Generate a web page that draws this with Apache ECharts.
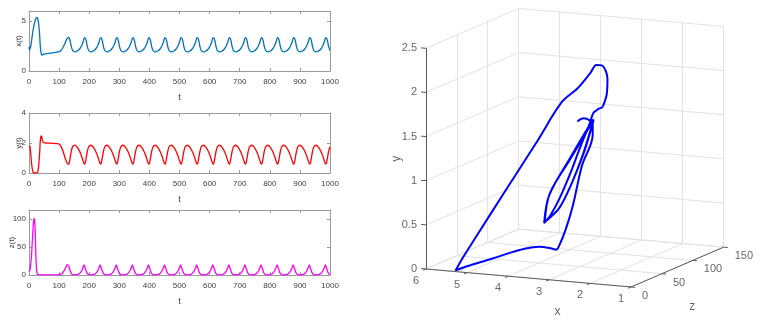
<!DOCTYPE html>
<html>
<head>
<meta charset="utf-8">
<script src="https://cdn.jsdelivr.net/npm/echarts@6/dist/echarts.min.js"></script>
<style>
  html, body { margin: 0; padding: 0; background: #fff; }
  #chart { width: 760px; height: 324px; }
</style>
</head>
<body>
<div id="chart"></div>
<script>
// time samples: start-up transient, then one row per oscillation period
const tVals = [
  0, 1, 2, 3, 4, 6, 8, 10, 12, 14, 16, 18, 20, 22, 24, 26, 28, 30, 32, 34,
  36, 37, 38, 39, 40, 41, 42, 43, 45, 48, 55, 70, 90, 100, 106, 112, 117, 122, 127,
  132, 136, 140, 145, 152, 160, 168, 175, 180, 183,
  185.4, 189.4, 193.4, 198.4, 205.4, 213.4, 221.4, 228.4, 233.4, 236.4,
  238.9, 242.9, 246.9, 251.9, 258.9, 266.9, 274.9, 281.9, 286.9, 289.9,
  292.3, 296.3, 300.3, 305.3, 312.3, 320.3, 328.3, 335.3, 340.3, 343.3,
  345.8, 349.8, 353.8, 358.8, 365.8, 373.8, 381.8, 388.8, 393.8, 396.8,
  399.2, 403.2, 407.2, 412.2, 419.2, 427.2, 435.2, 442.2, 447.2, 450.2,
  452.6, 456.6, 460.6, 465.6, 472.6, 480.6, 488.6, 495.6, 500.6, 503.6,
  506.1, 510.1, 514.1, 519.1, 526.1, 534.1, 542.1, 549.1, 554.1, 557.1,
  559.5, 563.5, 567.5, 572.5, 579.5, 587.5, 595.5, 602.5, 607.5, 610.5,
  613, 617, 621, 626, 633, 641, 649, 656, 661, 664,
  666.4, 670.4, 674.4, 679.4, 686.4, 694.4, 702.4, 709.4, 714.4, 717.4,
  719.8, 723.8, 727.8, 732.8, 739.8, 747.8, 755.8, 762.8, 767.8, 770.8,
  773.3, 777.3, 781.3, 786.3, 793.3, 801.3, 809.3, 816.3, 821.3, 824.3,
  826.7, 830.7, 834.7, 839.7, 846.7, 854.7, 862.7, 869.7, 874.7, 877.7,
  880.2, 884.2, 888.2, 893.2, 900.2, 908.2, 916.2, 923.2, 928.2, 931.2,
  933.6, 937.6, 941.6, 946.6, 953.6, 961.6, 969.6, 976.6, 981.6, 984.6,
  987, 991, 995, 1000
];

const xVals = [
  2.4, 2.25, 2.12, 2.07, 2.1, 2.5, 2.9, 3.35, 3.8, 4.15, 4.45, 4.75, 5.0, 5.15, 5.3, 5.35, 5.3, 5.1, 4.75, 4.1,
  3.3, 2.7, 2.3, 2.0, 1.85, 1.72, 1.62, 1.58, 1.6, 1.68, 1.72, 1.78, 1.86, 1.93, 2.05, 2.3, 2.6, 2.95, 3.25,
  3.36, 3.12, 2.52, 2.06, 1.92, 2.0, 2.2, 2.55, 2.95, 3.27,
  3.33, 3.1, 2.5, 2.05, 1.92, 2.0, 2.2, 2.55, 2.95, 3.27,
  3.33, 3.1, 2.5, 2.05, 1.92, 2.0, 2.2, 2.55, 2.95, 3.27,
  3.33, 3.1, 2.5, 2.05, 1.92, 2.0, 2.2, 2.55, 2.95, 3.27,
  3.33, 3.1, 2.5, 2.05, 1.92, 2.0, 2.2, 2.55, 2.95, 3.27,
  3.33, 3.1, 2.5, 2.05, 1.92, 2.0, 2.2, 2.55, 2.95, 3.27,
  3.33, 3.1, 2.5, 2.05, 1.92, 2.0, 2.2, 2.55, 2.95, 3.27,
  3.33, 3.1, 2.5, 2.05, 1.92, 2.0, 2.2, 2.55, 2.95, 3.27,
  3.33, 3.1, 2.5, 2.05, 1.92, 2.0, 2.2, 2.55, 2.95, 3.27,
  3.33, 3.1, 2.5, 2.05, 1.92, 2.0, 2.2, 2.55, 2.95, 3.27,
  3.33, 3.1, 2.5, 2.05, 1.92, 2.0, 2.2, 2.55, 2.95, 3.27,
  3.33, 3.1, 2.5, 2.05, 1.92, 2.0, 2.2, 2.55, 2.95, 3.27,
  3.33, 3.1, 2.5, 2.05, 1.92, 2.0, 2.2, 2.55, 2.95, 3.27,
  3.33, 3.1, 2.5, 2.05, 1.92, 2.0, 2.2, 2.55, 2.95, 3.27,
  3.33, 3.1, 2.5, 2.05, 1.92, 2.0, 2.2, 2.55, 2.95, 3.27,
  3.33, 3.1, 2.5, 2.05, 1.92, 2.0, 2.2, 2.55, 2.95, 3.27,
  3.33, 3.1, 2.5, 2.05
];

const yVals = [
  1.8, 1.84, 1.82, 1.78, 1.65, 1.25, 0.75, 0.4, 0.15, 0.03, 0, 0, 0, 0, 0, 0, 0.02, 0.17, 0.44, 0.94,
  1.55, 2.02, 2.2, 2.38, 2.48, 2.48, 2.42, 2.33, 2.15, 2.03, 2.0, 1.99, 1.96, 1.93, 1.78, 1.52, 1.2, 0.88, 0.66,
  0.58, 0.93, 1.4, 1.76, 1.86, 1.73, 1.46, 1.1, 0.78, 0.63,
  0.6, 0.95, 1.4, 1.75, 1.85, 1.72, 1.45, 1.1, 0.78, 0.63,
  0.6, 0.95, 1.4, 1.75, 1.85, 1.72, 1.45, 1.1, 0.78, 0.63,
  0.6, 0.95, 1.4, 1.75, 1.85, 1.72, 1.45, 1.1, 0.78, 0.63,
  0.6, 0.95, 1.4, 1.75, 1.85, 1.72, 1.45, 1.1, 0.78, 0.63,
  0.6, 0.95, 1.4, 1.75, 1.85, 1.72, 1.45, 1.1, 0.78, 0.63,
  0.6, 0.95, 1.4, 1.75, 1.85, 1.72, 1.45, 1.1, 0.78, 0.63,
  0.6, 0.95, 1.4, 1.75, 1.85, 1.72, 1.45, 1.1, 0.78, 0.63,
  0.6, 0.95, 1.4, 1.75, 1.85, 1.72, 1.45, 1.1, 0.78, 0.63,
  0.6, 0.95, 1.4, 1.75, 1.85, 1.72, 1.45, 1.1, 0.78, 0.63,
  0.6, 0.95, 1.4, 1.75, 1.85, 1.72, 1.45, 1.1, 0.78, 0.63,
  0.6, 0.95, 1.4, 1.75, 1.85, 1.72, 1.45, 1.1, 0.78, 0.63,
  0.6, 0.95, 1.4, 1.75, 1.85, 1.72, 1.45, 1.1, 0.78, 0.63,
  0.6, 0.95, 1.4, 1.75, 1.85, 1.72, 1.45, 1.1, 0.78, 0.63,
  0.6, 0.95, 1.4, 1.75, 1.85, 1.72, 1.45, 1.1, 0.78, 0.63,
  0.6, 0.95, 1.4, 1.75, 1.85, 1.72, 1.45, 1.1, 0.78, 0.63,
  0.6, 0.95, 1.4, 1.75
];

const zVals = [
  6, 6.5, 7.5, 9, 11, 20, 32, 50, 70, 88, 99, 101, 85, 50, 20, 5, 1.5, 0.6, 0.4, 0.3,
  0.3, 0.3, 0.3, 0.3, 0.3, 0.3, 0.3, 0.3, 0.3, 0.3, 0.3, 0.3, 0.3, 0.5, 1.5, 4, 8, 13.5, 18.5,
  16, 8.5, 3.2, 0.8, 0.3, 0.6, 2.5, 7.5, 14, 18,
  15, 8, 3, 0.8, 0.3, 0.6, 2.5, 7.5, 14, 18,
  15, 8, 3, 0.8, 0.3, 0.6, 2.5, 7.5, 14, 18,
  15, 8, 3, 0.8, 0.3, 0.6, 2.5, 7.5, 14, 18,
  15, 8, 3, 0.8, 0.3, 0.6, 2.5, 7.5, 14, 18,
  15, 8, 3, 0.8, 0.3, 0.6, 2.5, 7.5, 14, 18,
  15, 8, 3, 0.8, 0.3, 0.6, 2.5, 7.5, 14, 18,
  15, 8, 3, 0.8, 0.3, 0.6, 2.5, 7.5, 14, 18,
  15, 8, 3, 0.8, 0.3, 0.6, 2.5, 7.5, 14, 18,
  15, 8, 3, 0.8, 0.3, 0.6, 2.5, 7.5, 14, 18,
  15, 8, 3, 0.8, 0.3, 0.6, 2.5, 7.5, 14, 18,
  15, 8, 3, 0.8, 0.3, 0.6, 2.5, 7.5, 14, 18,
  15, 8, 3, 0.8, 0.3, 0.6, 2.5, 7.5, 14, 18,
  15, 8, 3, 0.8, 0.3, 0.6, 2.5, 7.5, 14, 18,
  15, 8, 3, 0.8, 0.3, 0.6, 2.5, 7.5, 14, 18,
  15, 8, 3, 0.8, 0.3, 0.6, 2.5, 7.5, 14, 18,
  15, 8, 3, 0.8
];

// 3-D box ticks
const xTicks3 = [6, 5, 4, 3, 2, 1];
const yTicks3 = [0, 0.5, 1, 1.5, 2, 2.5];
const zTicks3 = [0, 50, 100, 150];

const FONT = 'Liberation Sans, Arial, Helvetica, sans-serif';
const AX = '#9a9a9a';
const TXT = '#404040';

// orthographic view of the 3-D box (azimuth / elevation in degrees)
const view = { az: 24.3, el: 11.2, size: 225, ox: 46, oy: 269 };
function project(x, y, z) {
  const a = (6 - x) / 5;          // x runs from 6 (left) to 1 (right)
  const b = y / 2.5;
  const c = z / 150;
  const th = view.az * Math.PI / 180, ph = view.el * Math.PI / 180;
  const sx = view.ox + view.size * (a * Math.cos(th) + c * Math.sin(th));
  const sy = view.oy + view.size * ((a * Math.sin(th) - c * Math.cos(th)) * Math.sin(ph) - b * Math.cos(ph));
  return [sx, sy];
}

// grid lines on the three back planes
const gridSegs = [];
xTicks3.forEach(x => gridSegs.push([project(x, 0, 0), project(x, 0, 150)]));
zTicks3.forEach(z => gridSegs.push([project(6, 0, z), project(1, 0, z)]));
yTicks3.forEach(y => gridSegs.push([project(6, y, 0), project(6, y, 150)]));
zTicks3.forEach(z => gridSegs.push([project(6, 0, z), project(6, 2.5, z)]));
xTicks3.forEach(x => gridSegs.push([project(x, 0, 150), project(x, 2.5, 150)]));
yTicks3.forEach(y => gridSegs.push([project(6, y, 150), project(1, y, 150)]));

const axisSegs = [
  [project(6, 0, 0), project(6, 2.5, 0)],
  [project(6, 0, 0), project(1, 0, 0)],
  [project(1, 0, 0), project(1, 0, 150)]
];
yTicks3.forEach(y => axisSegs.push([project(6, y, 0), project(6.12, y, 0)]));
xTicks3.forEach(x => axisSegs.push([project(x, 0, 0), project(x, 0, -5)]));
zTicks3.forEach(z => axisSegs.push([project(1, 0, z), project(0.9, 0, z)]));

const panels = [
  { name: 'x(t)', vals: xVals, color: '#0072bd', max: 6, interval: 5, showMax: false, gap: 6, grid: { left: 29, top: 11, width: 301, height: 60 } },
  { name: 'y(t)', vals: yVals, color: '#ff0000', max: 4, interval: 2, showMax: true, gap: 6, grid: { left: 29, top: 113, width: 301, height: 60 } },
  { name: 'z(t)', vals: zVals, color: '#ff00ff', max: 116, interval: 50, showMax: false, gap: 13, grid: { left: 29, top: 210, width: 301, height: 65 } }
];

const grids = panels.map(p => p.grid);
grids.push({ left: 380, top: 0, width: 380, height: 324 });

const xAxes = [], yAxes = [], series = [];
panels.forEach((p, i) => {
  const line = { show: true, onZero: false, lineStyle: { color: AX, width: 1 } };
  const tick = { show: true, inside: true, length: 3, lineStyle: { color: AX } };
  xAxes.push({
    gridIndex: i, type: 'value', min: 0, max: 1000, interval: 100, position: 'bottom',
    axisLine: line, axisTick: tick, splitLine: { show: false },
    axisLabel: { fontSize: 8, color: TXT, margin: 7, fontFamily: FONT, formatter: v => String(v) },
    name: 't', nameLocation: 'middle', nameGap: 22, nameMoveOverlap: false,
    nameTextStyle: { fontSize: 9, color: TXT, fontFamily: FONT }
  });
  xAxes.push({
    gridIndex: i, type: 'value', min: 0, max: 1000, interval: 100, position: 'top',
    axisLine: line, axisTick: tick, splitLine: { show: false }, axisLabel: { show: false }
  });
  yAxes.push({
    gridIndex: i, type: 'value', min: 0, max: p.max, interval: p.interval, position: 'left',
    axisLine: line, axisTick: tick, splitLine: { show: false },
    axisLabel: { fontSize: 8, color: TXT, margin: 3, fontFamily: FONT, showMaxLabel: p.showMax },
    name: p.name, nameLocation: 'middle', nameRotate: 90, nameGap: p.gap, nameMoveOverlap: false,
    nameTextStyle: { fontSize: 8, color: TXT, fontFamily: FONT }
  });
  yAxes.push({
    gridIndex: i, type: 'value', min: 0, max: p.max, interval: p.interval, position: 'right',
    axisLine: line, axisTick: tick, splitLine: { show: false }, axisLabel: { show: false }
  });
  series.push({
    type: 'line', xAxisIndex: i * 2, yAxisIndex: i * 2,
    data: tVals.map((t, k) => [t, p.vals[k]]),
    showSymbol: false, smooth: 0.3, silent: true,
    lineStyle: { color: p.color, width: 1.3 }
  });
});

// hidden plane for the 3-D view
xAxes.push({ gridIndex: 3, type: 'value', min: 0, max: 380, show: false });
yAxes.push({ gridIndex: 3, type: 'value', min: 0, max: 324, inverse: true, show: false });
const X3 = panels.length * 2, Y3 = panels.length * 2;

series.push({
  type: 'lines', coordinateSystem: 'cartesian2d', xAxisIndex: X3, yAxisIndex: Y3, silent: true, z: 1,
  data: gridSegs.map(s => ({ coords: s })),
  lineStyle: { color: '#e2e2e2', width: 1, opacity: 1 }
});
series.push({
  type: 'lines', coordinateSystem: 'cartesian2d', xAxisIndex: X3, yAxisIndex: Y3, silent: true, z: 2,
  data: axisSegs.map(s => ({ coords: s })),
  lineStyle: { color: '#5a5a5a', width: 1, opacity: 1 }
});
series.push({
  type: 'line', xAxisIndex: X3, yAxisIndex: Y3, silent: true, z: 3, clip: false,
  data: tVals.map((t, k) => project(xVals[k], yVals[k], zVals[k])),
  showSymbol: false, smooth: 0.35,
  lineStyle: { color: '#0000ff', width: 2 }
});

const tickLabel = { show: true, fontSize: 11, color: TXT, fontFamily: FONT };
series.push({
  type: 'scatter', xAxisIndex: X3, yAxisIndex: Y3, silent: true, symbolSize: 0,
  data: yTicks3.map(v => ({ value: project(6, v, 0), name: String(v) })),
  label: Object.assign({}, tickLabel, { formatter: '{b}', position: 'inside', align: 'right', verticalAlign: 'middle', offset: [-9, 0] })
});
series.push({
  type: 'scatter', xAxisIndex: X3, yAxisIndex: Y3, silent: true, symbolSize: 0,
  data: xTicks3.map(v => ({ value: project(v, 0, 0), name: String(v) })),
  label: Object.assign({}, tickLabel, { formatter: '{b}', position: 'inside', align: 'center', verticalAlign: 'middle', offset: [-10, 12] })
});
series.push({
  type: 'scatter', xAxisIndex: X3, yAxisIndex: Y3, silent: true, symbolSize: 0,
  data: zTicks3.map(v => ({ value: project(1, 0, v), name: String(v) })),
  label: Object.assign({}, tickLabel, { formatter: '{b}', position: 'inside', align: 'left', verticalAlign: 'middle', offset: [11, 9] })
});
series.push({
  type: 'scatter', xAxisIndex: X3, yAxisIndex: Y3, silent: true, symbolSize: 0,
  data: [
    { value: project(3.5, 0, 0), name: 'x', label: { offset: [29, 34] } },
    { value: project(1, 0, 75), name: 'z', label: { offset: [15, 40] } },
    { value: project(6, 1.25, 0), name: 'y', label: { offset: [0, -29], rotate: 90 } }
  ],
  label: { show: true, formatter: '{b}', position: 'inside', align: 'center', verticalAlign: 'middle', fontSize: 12, color: TXT, fontFamily: FONT }
});

const chart = echarts.init(document.getElementById('chart'));
chart.setOption({
  animation: false,
  backgroundColor: '#ffffff',
  grid: grids,
  xAxis: xAxes,
  yAxis: yAxes,
  series: series
});
</script>
</body>
</html>
